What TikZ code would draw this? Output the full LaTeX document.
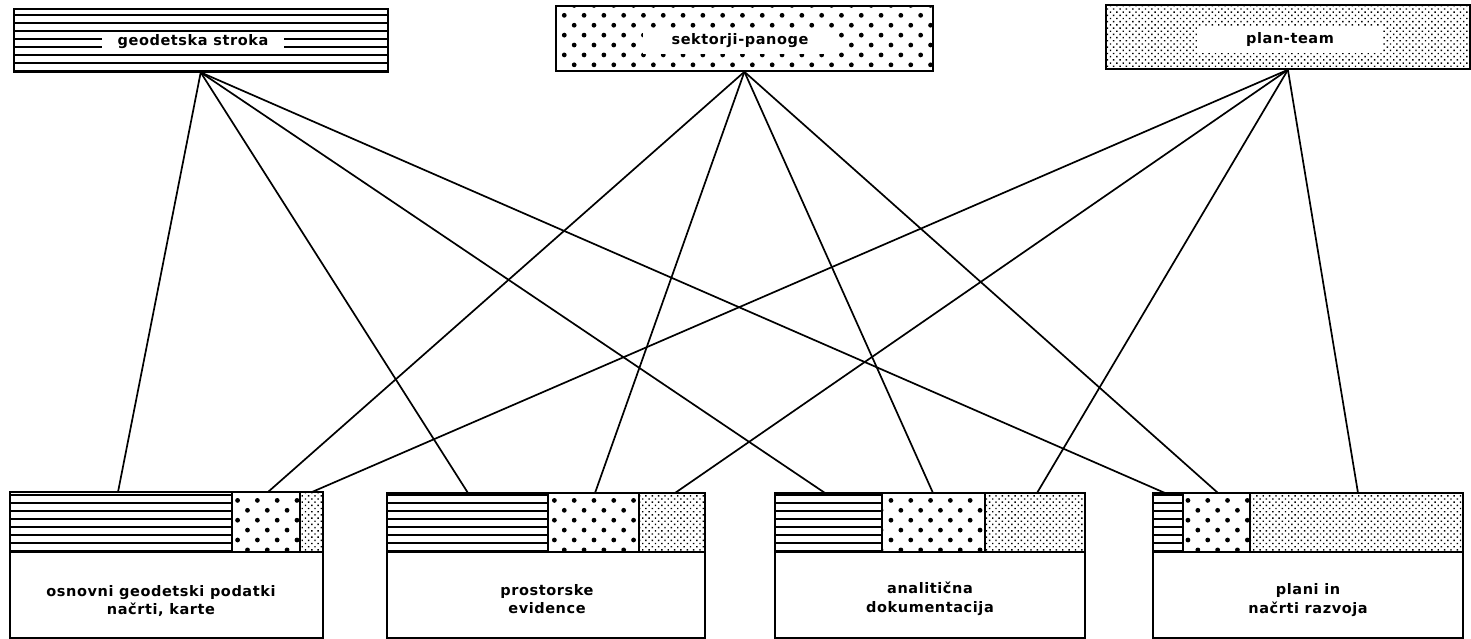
\documentclass[tikz,border=0pt]{standalone}
\usepackage{fontspec}
\newfontfamily\labfont[LetterSpace=4]{DejaVu Sans Bold}
\usetikzlibrary{patterns.meta}
\begin{document}
\begin{tikzpicture}[x=1pt,y=-1pt,
 frame/.style={draw, line width=1.8pt},
 hlines/.style={pattern={Lines[distance=8pt,line width=1.4pt]}},
 bigdots/.style={pattern={Dots[distance=14pt,radius=2.4pt,angle=45]}},
 finedots/.style={pattern={Dots[distance=4.5pt,radius=1.0pt,angle=45]}},
 lbl/.style={font=\labfont\fontsize{14.5}{18.5}\selectfont, align=center, inner sep=0pt},
 conn/.style={line width=1.7pt}]
\useasboundingbox (0,0) rectangle (1471,639);

% ---------- top boxes ----------
\node[frame, hlines, minimum width=374pt, minimum height=63pt, inner sep=0pt, anchor=north west] (g) at (13,8) {};
\node[lbl, fill=white, minimum width=182pt, minimum height=19pt] (gt) at (193,42) {geodetska stroka};

\node[frame, bigdots, minimum width=377pt, minimum height=65pt, inner sep=0pt, anchor=north west] (s) at (555,5) {};
\node[lbl, fill=white, minimum width=194pt, minimum height=26pt] (st) at (740,41) {sektorji-panoge};

\node[frame, finedots, minimum width=364pt, minimum height=64pt, inner sep=0pt, anchor=north west] (p) at (1105,4) {};
\node[lbl, fill=white, minimum width=186pt, minimum height=27pt] (pt) at (1290,40) {plan-team};

% ---------- bottom boxes ----------
% box 1
\fill[hlines]   (10,492) rectangle (232,552);
\fill[bigdots]  (232,492) rectangle (300,552);
\fill[finedots] (300,492) rectangle (323,552);
\draw[frame] (10,492) rectangle (323,638);
\draw[frame] (10,552) -- (323,552) (232,492) -- (232,552) (300,492) -- (300,552);
\node[lbl] (b1) at (161,601) {osnovni geodetski podatki\\načrti, karte};

% box 2
\fill[hlines]   (387,493) rectangle (548,552);
\fill[bigdots]  (548,493) rectangle (639,552);
\fill[finedots] (639,493) rectangle (705,552);
\draw[frame] (387,493) rectangle (705,638);
\draw[frame] (387,552) -- (705,552) (548,493) -- (548,552) (639,493) -- (639,552);
\node[lbl] (b2) at (547,599) {prostorske\\evidence};

% box 3
\fill[hlines]   (775,493) rectangle (882,552);
\fill[bigdots]  (882,493) rectangle (985,552);
\fill[finedots] (985,493) rectangle (1085,552);
\draw[frame] (775,493) rectangle (1085,638);
\draw[frame] (775,552) -- (1085,552) (882,493) -- (882,552) (985,493) -- (985,552);
\node[lbl] (b3) at (930,599) {analitična\\dokumentacija};

% box 4
\fill[hlines]   (1153,493) rectangle (1183,552);
\fill[bigdots]  (1183,493) rectangle (1250,552);
\fill[finedots] (1250,493) rectangle (1463,552);
\draw[frame] (1153,493) rectangle (1463,638);
\draw[frame] (1153,552) -- (1463,552) (1183,493) -- (1183,552) (1250,493) -- (1250,552);
\node[lbl] (b4) at (1308,600) {plani in\\načrti razvoja};

% ---------- connection points ----------
\coordinate (b1g) at (118,492);
\coordinate (b1s) at (268,492);
\coordinate (b1p) at (312,492);
\coordinate (b2g) at (468,493);
\coordinate (b2s) at (595,493);
\coordinate (b2p) at (675,493);
\coordinate (b3g) at (825,493);
\coordinate (b3s) at (933,493);
\coordinate (b3p) at (1037,493);
\coordinate (b4g) at (1165,493);
\coordinate (b4s) at (1218,493);
\coordinate (b4p) at (1358,493);

% ---------- connectors ----------
\foreach \b in {1,2,3,4} {
  \draw[conn] (g.south) -- (b\b g);
  \draw[conn] (s.south) -- (b\b s);
  \draw[conn] (p.south) -- (b\b p);
}
\end{tikzpicture}
\end{document}
